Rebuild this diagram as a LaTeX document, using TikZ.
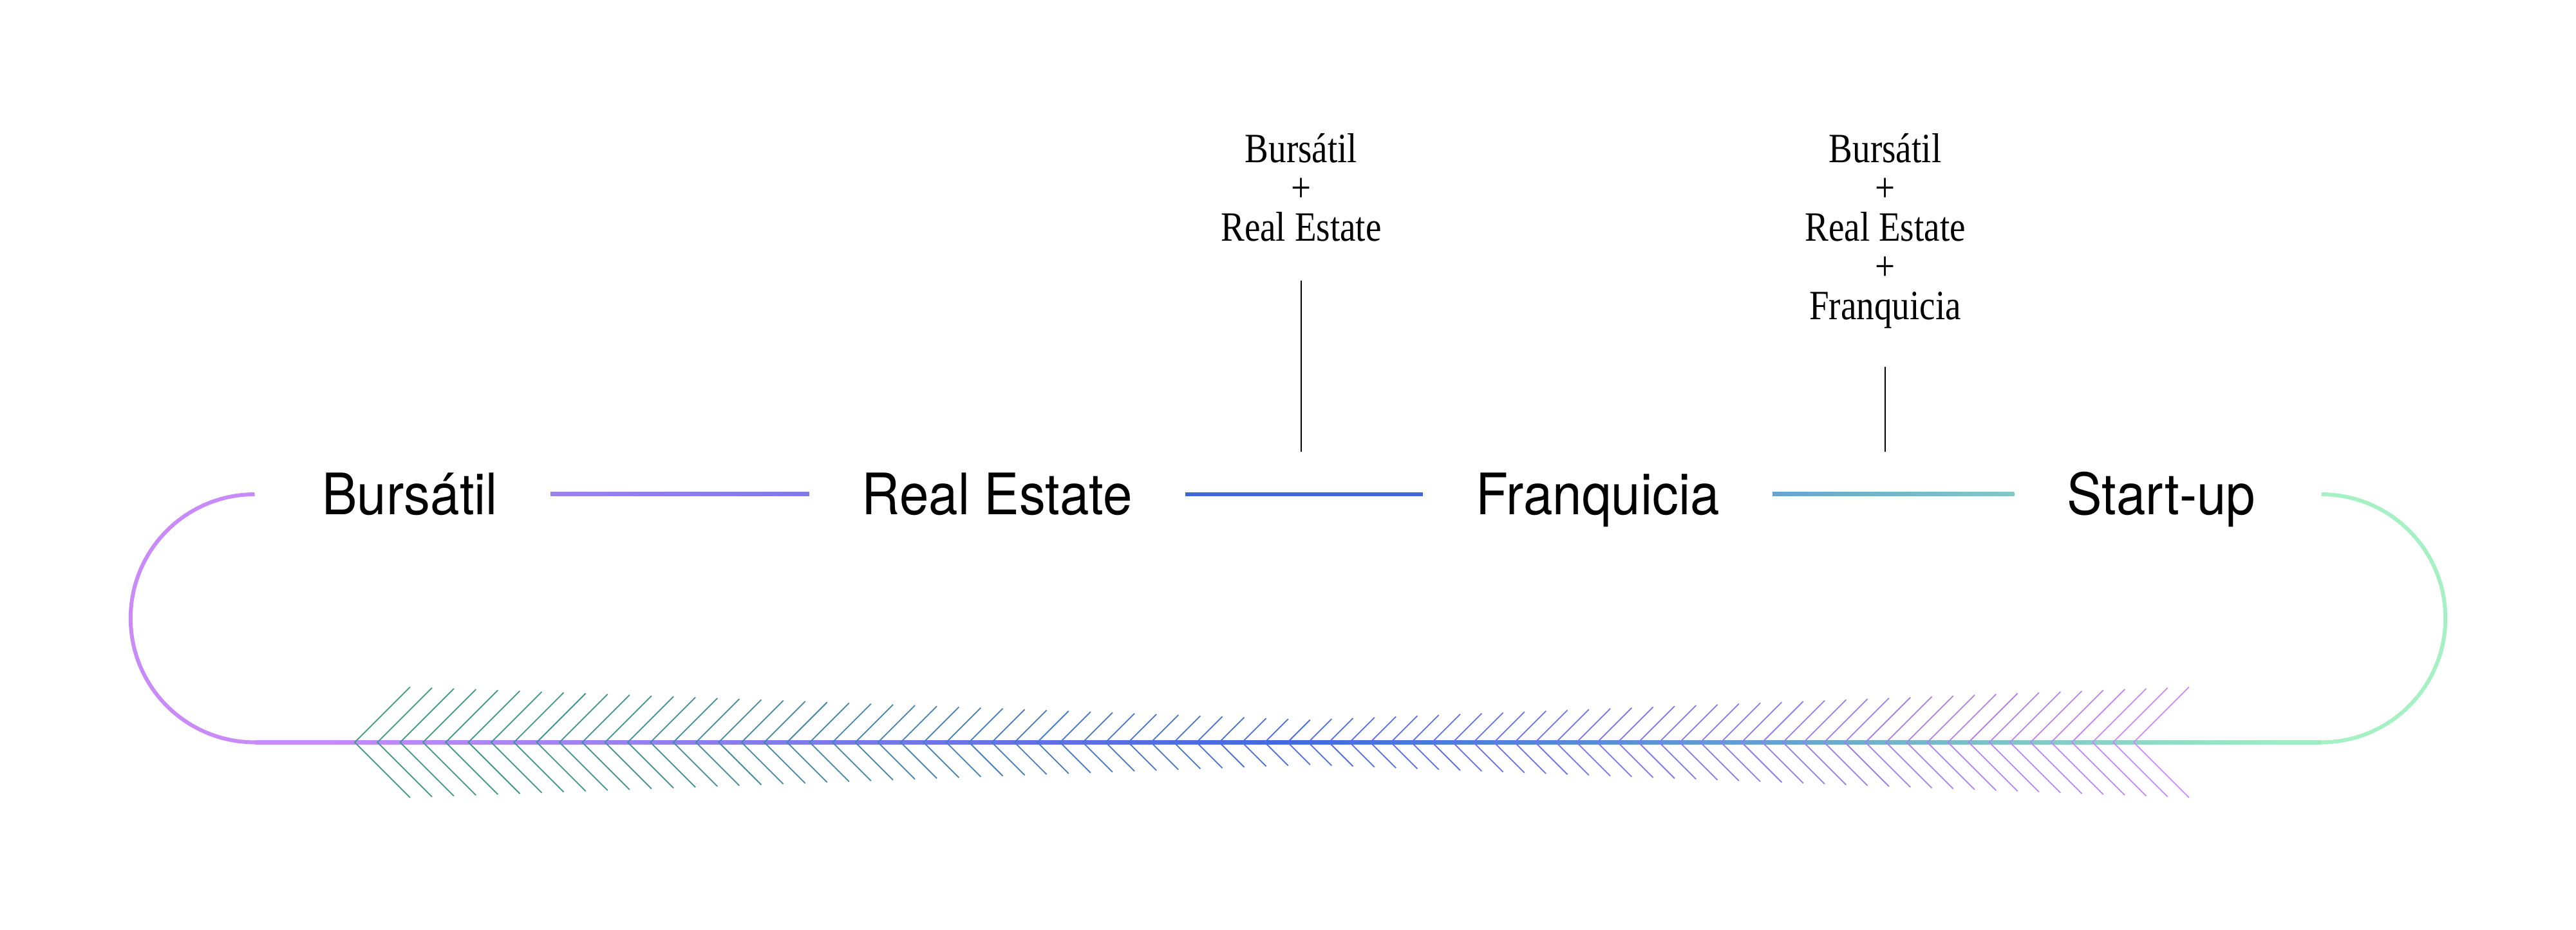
\documentclass[tikz,border=0pt]{standalone}
\usepackage{fontspec}
\setmainfont{Liberation Serif}
\newfontfamily\stagefont[FakeStretch=0.92]{TeX Gyre Heros}
\newfontfamily\mixfont[FakeStretch=0.85]{Liberation Serif}
\definecolor{loopL}{HTML}{C98BF9}
\definecolor{loopR}{HTML}{A6F1C3}
\definecolor{linkA}{HTML}{9C82EB}
\definecolor{linkB}{HTML}{7F7AE6}
\definecolor{linkC}{HTML}{3E68D8}
\definecolor{linkD}{HTML}{69A2D2}
\definecolor{linkE}{HTML}{83C8C6}
\definecolor{trackA}{HTML}{7D7BEA}
\definecolor{trackB}{HTML}{4169E1}
\definecolor{trackC}{HTML}{6AA5CE}
\definecolor{trackD}{HTML}{A2EBC2}
\definecolor{chevG}{HTML}{3B9C77}
\definecolor{chevB}{HTML}{4A6EDC}
\definecolor{chevP}{HTML}{CD8AF9}
\pgfdeclarehorizontalshading{trackshade}{100bp}{color(0bp)=(loopL); color(26.6bp)=(loopL); color(38.3bp)=(trackA); color(50bp)=(trackB); color(62.4bp)=(trackC); color(74.1bp)=(trackD); color(100bp)=(loopR)}
\begin{document}
\begin{tikzpicture}[x=1pt,y=1pt,
	stage/.style={font=\stagefont\fontsize{34.8}{40}\selectfont, anchor=base,
		inner xsep=32, inner ysep=0, text height=25, text depth=0},
	mix/.style={font=\mixfont\fontsize{25.4}{24}\selectfont, align=center,
		anchor=north, inner sep=0},
	link/.style={line width=2.35},
	tick/.style={line width=0.45, black},
	chev/.style={line width=0.7}]
\useasboundingbox [fill=white] (0,0) rectangle (1568,566);
\node [stage] (bur) at (249.5,252.7) {Bursátil};
\node [stage] (real) at (607,252.7) {Real Estate};
\node [stage] (fran) at (972.5,252.7) {Franquicia};
\node [stage] (start) at (1315.5,252.7) {Start-up};
\node [mix] (mixA) at (792,485.1) {Bursátil\\+\\Real Estate};
\node [mix] (mixB) at (1147.5,485.1) {Bursátil\\+\\Real Estate\\+\\Franquicia};
\coordinate (tickbase) at (0,291);
\coordinate (loopin) at (155,265);
\coordinate (loopout) at (1413,265);
\shade [left color=linkA, right color=linkB] ([yshift=-1.17]bur.east) rectangle ([yshift=1.17]real.west);
\draw [link, linkC] (real.east) -- (fran.west);
\shade [left color=linkD, right color=linkE] ([yshift=-1.17]fran.east) rectangle ([yshift=1.17]start.west);
\draw [tick] ([yshift=-23.6]mixA.south) -- (mixA.south |- tickbase);
\draw [tick] ([yshift=-23]mixB.south) -- (mixB.south |- tickbase);
\draw [link, loopL] (loopin) arc [start angle=90, end angle=270, radius=75.5];
\draw [link, loopR] (loopout) arc [start angle=90, end angle=-90, radius=75.5];
\shade [shading=trackshade] (155,112.83) rectangle (1413,115.17);
\foreach \k in {0,...,41} {
	\pgfmathsetmacro\cx{215.9+13.85*\k}
	\pgfmathsetmacro\ch{33.7-20*\k/41}
	\pgfmathtruncatemacro\cp{100-100*\k/41}
	\draw [chev, chevG!\cp!chevB] (\cx+\ch,114+\ch) -- (\cx,114) -- (\cx+\ch,114-\ch);
}
\foreach \j in {1,...,41} {
	\pgfmathsetmacro\cx{783.8+12.56*\j}
	\pgfmathsetmacro\ch{13.7+20*\j/41}
	\pgfmathtruncatemacro\cp{100*\j/41}
	\draw [chev, chevP!\cp!chevB] (\cx+\ch,114+\ch) -- (\cx,114) -- (\cx+\ch,114-\ch);
}
\end{tikzpicture}
\end{document}
